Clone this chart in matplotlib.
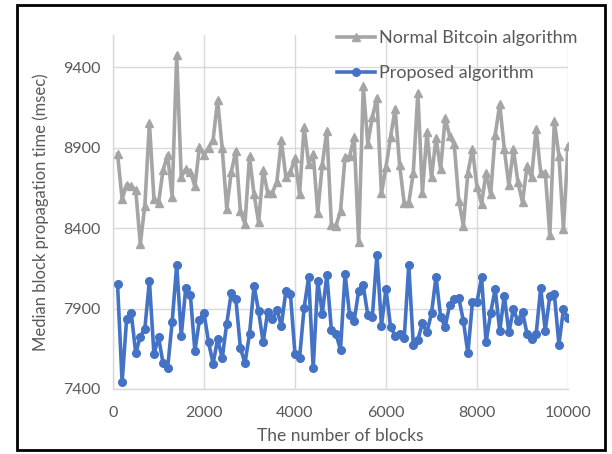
import matplotlib
matplotlib.use("Agg")
import matplotlib.pyplot as plt
from matplotlib.patches import Rectangle

plt.rcParams['font.family'] = ['Lato', 'DejaVu Sans']

# block counts (every 100 blocks)
blocks = list(range(100, 10001, 100))

normal_bitcoin = [
    8860, 8580, 8670, 8660, 8635, 8300, 8540, 9055, 8580, 8555,
    8760, 8855, 8595, 9475, 8720, 8765, 8750, 8660, 8905, 8855,
    8900, 8950, 9195, 8895, 8520, 8750, 8880, 8505, 8425, 8845,
    8610, 8435, 8760, 8620, 8620, 8685, 8945, 8715, 8750, 8835,
    8610, 9030, 8800, 8860, 8495, 8795, 9005, 8420, 8415, 8505,
    8840, 8845, 8965, 8315, 9280, 8925, 9090, 9210, 8615, 8780,
    8965, 9140, 8790, 8555, 8555, 8745, 9240, 8620, 8995, 8715,
    8960, 8765, 9085, 8970, 8920, 8570, 8415, 8745, 8890, 8655,
    8550, 8745, 8610, 8980, 9170, 8890, 8665, 8890, 8685, 8560,
    8785, 8715, 9015, 8745, 8745, 8355, 9065, 8850, 8395, 8910,
]

proposed = [
    8052, 7441, 7838, 7873, 7622, 7726, 7775, 8072, 7615, 7724,
    7560, 7528, 7817, 8170, 7731, 8030, 7985, 7635, 7830, 7873,
    7690, 7558, 7710, 7592, 7807, 7998, 7960, 7655, 7560, 7740,
    8042, 7883, 7690, 7881, 7832, 7892, 7794, 8010, 7988, 7615,
    7592, 7904, 8094, 7530, 8072, 7869, 8108, 7766, 7742, 7644,
    8115, 7861, 7824, 8010, 8045, 7858, 7848, 8234, 7794, 8021,
    7786, 7732, 7739, 7715, 8170, 7675, 7705, 7808, 7752, 7871,
    8097, 7848, 7786, 7923, 7959, 7966, 7824, 7622, 7941, 7941,
    8093, 7690, 7873, 8021, 7762, 7980, 7752, 7895, 7821, 7881,
    7742, 7708, 7741, 8028, 7762, 7976, 7990, 7676, 7895, 7842,
]

x_ticks = [0, 2000, 4000, 6000, 8000, 10000]
y_ticks = [7400, 7900, 8400, 8900, 9400]

fig = plt.figure(figsize=(6.12, 4.54), dpi=100)
ax = fig.add_axes([113 / 612, 1 - 389 / 454, (568 - 113) / 612, (389 - 35) / 454])

ax.plot(blocks, normal_bitcoin, color='#A5A5A5', lw=2.6, marker='^', ms=5.5,
        label='Normal Bitcoin algorithm', zorder=3)
ax.plot(blocks, proposed, color='#4472C4', lw=2.6, marker='o', ms=5.5,
        label='Proposed algorithm', zorder=3)

ax.set_xlim(0, 10000)
ax.set_ylim(7400, 9600)
ax.set_xticks(x_ticks)
ax.set_yticks(y_ticks)
ax.grid(True, color='#D9D9D9', lw=1.0, zorder=0)
ax.tick_params(length=0, labelsize=11.5, colors='#595959')
ax.tick_params(axis='x', pad=12)
ax.tick_params(axis='y', pad=9)
for side in ['top', 'right']:
    ax.spines[side].set_visible(False)
for side in ['left', 'bottom']:
    ax.spines[side].set_color('#D9D9D9')
    ax.spines[side].set_linewidth(1.0)

ax.set_xlabel('The number of blocks', fontsize=12.5, color='#595959', labelpad=6)
ax.set_ylabel('Median block propagation time (msec)', fontsize=12, color='#595959', labelpad=10)

leg = ax.legend(loc='upper left', bbox_to_anchor=(328 / 612, 1 - 21 / 454),
                bbox_transform=fig.transFigure, frameon=False, fontsize=13,
                labelspacing=1.05, handlelength=2.1, handletextpad=0.2, borderpad=0)
for t in leg.get_texts():
    t.set_color('#595959')

# black frame around the chart
fig.patches.append(Rectangle((17 / 612, 4 / 454), (605 - 17) / 612, (449 - 4) / 454,
                             transform=fig.transFigure, fill=False,
                             edgecolor='black', lw=2))

fig.savefig('out.png', dpi=100)
